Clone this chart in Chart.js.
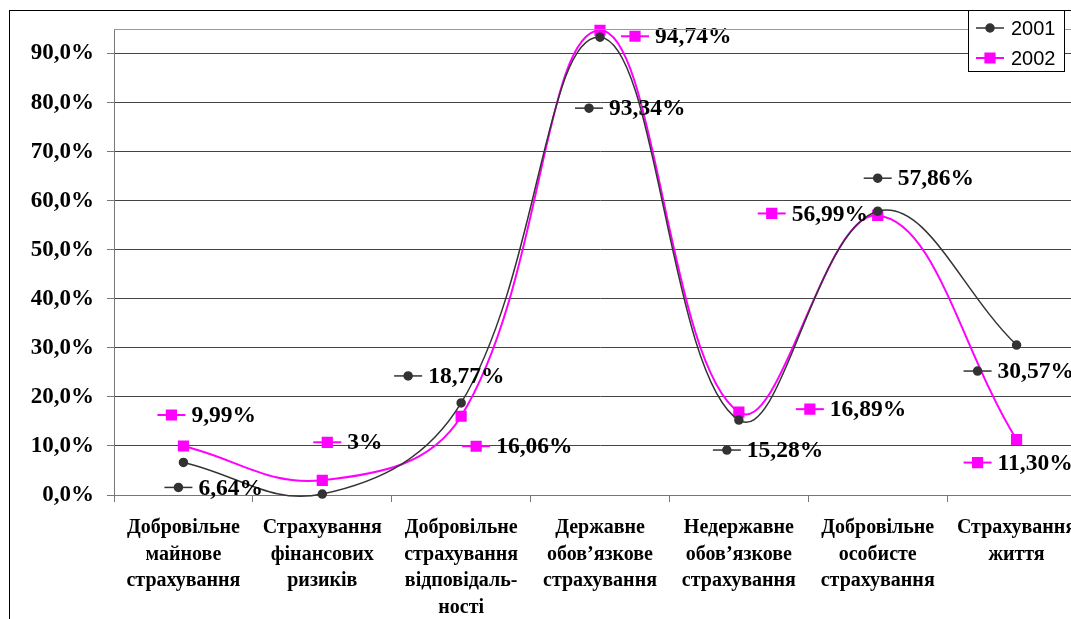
<!DOCTYPE html>
<html>
<head>
<meta charset="utf-8">
<script src="https://cdn.jsdelivr.net/npm/chart.js@4/dist/chart.umd.min.js"></script>
<style>
  html, body { margin: 0; padding: 0; background: #fff; overflow: hidden; }
  #frame { position: absolute; left: 9px; top: 10px; width: 1200px; height: 700px;
           border-left: 1px solid #000; border-top: 1px solid #000; }
  #wrap { position: absolute; left: 0; top: 0; width: 1100px; height: 619px; }
</style>
</head>
<body>
<div id="frame"></div>
<div id="wrap"><canvas id="chart"></canvas></div>
<script>
const categories = [
  ["Добровільне", "майнове", "страхування"],
  ["Страхування", "фінансових", "ризиків"],
  ["Добровільне", "страхування", "відповідаль-", "ності"],
  ["Державне", "обов’язкове", "страхування"],
  ["Недержавне", "обов’язкове", "страхування"],
  ["Добровільне", "особисте", "страхування"],
  ["Страхування", "життя"]
];
const values2001 = [6.64, 0.2, 18.77, 93.34, 15.28, 57.86, 30.57];
const values2002 = [9.99, 3, 16.06, 94.74, 16.89, 56.99, 11.30];
const yTicks = [0, 10, 20, 30, 40, 50, 60, 70, 80, 90];

// where each value label (key + text) sits, relative to its point; null = no label
const labelOffsets2001 = [[-5, 25], null, [-53, -27], [-11, 71], [-12, 30], [0, -33], [-39, 26]];
const labelOffsets2002 = [[-12, -31], [5, -38], [15, 30], [35, 6], [71, -3], [-106, -2], [-39, 23]];

const serif = '"Liberation Serif", "Times New Roman", serif';

function pct(v) {
  return (Number.isInteger(v) ? String(v) : v.toFixed(2)).replace('.', ',') + '%';
}

function drawKey(ctx, ds, x, y) {
  ctx.save();
  ctx.strokeStyle = ds.borderColor;
  ctx.lineWidth = ds.borderWidth;
  ctx.beginPath();
  ctx.moveTo(x - 14, y);
  ctx.lineTo(x + 14, y);
  ctx.stroke();
  ctx.fillStyle = ds.pointBackgroundColor;
  ctx.strokeStyle = ds.pointBorderColor;
  Chart.helpers.drawPoint(ctx, { pointStyle: ds.pointStyle, radius: ds.pointRadius, rotation: 0, borderWidth: 1 }, x, y);
  ctx.restore();
}

const valueLabels = {
  id: 'valueLabels',
  afterDatasetsDraw(chart) {
    const ctx = chart.ctx;
    chart.data.datasets.forEach((ds, i) => {
      const meta = chart.getDatasetMeta(i);
      meta.data.forEach((pt, j) => {
        const off = ds.labelOffsets[j];
        if (!off) return;
        const kx = pt.x + off[0], ky = pt.y + off[1];
        drawKey(ctx, ds, kx, ky);
        ctx.save();
        ctx.font = 'bold 23.5px ' + serif;
        ctx.fillStyle = '#000';
        ctx.textBaseline = 'middle';
        ctx.textAlign = 'left';
        ctx.fillText(pct(ds.data[j]), kx + 20, ky + 1);
        ctx.restore();
      });
    });
  }
};

const plotFrame = {
  id: 'plotFrame',
  afterDraw(chart) {
    const ctx = chart.ctx, a = chart.chartArea;
    ctx.save();
    ctx.strokeStyle = '#999';
    ctx.lineWidth = 1;
    ctx.beginPath();
    ctx.moveTo(a.left, a.top + 0.5);
    ctx.lineTo(a.right, a.top + 0.5);
    ctx.stroke();

    // legend box
    ctx.fillStyle = '#fff';
    ctx.fillRect(968, 10, 96, 61);
    ctx.strokeStyle = '#000';
    ctx.strokeRect(968.5, 10.5, 96, 61);
    ctx.font = '20px "Liberation Sans", Arial, sans-serif';
    ctx.textBaseline = 'middle';
    chart.data.datasets.forEach((ds, i) => {
      const y = 28 + i * 30;
      drawKey(ctx, ds, 990, y);
      ctx.fillStyle = '#000';
      ctx.fillText(ds.label, 1011, y + 1);
    });
    ctx.restore();
  }
};

new Chart(document.getElementById('chart'), {
  type: 'line',
  data: {
    labels: categories,
    datasets: [
      {
        label: '2001',
        data: values2001,
        labelOffsets: labelOffsets2001,
        borderColor: '#333333',
        borderWidth: 1.5,
        pointStyle: 'circle',
        pointRadius: 4,
        pointBackgroundColor: '#333333',
        pointBorderColor: '#333333',
        tension: 0.4,
        clip: false
      },
      {
        label: '2002',
        data: values2002,
        labelOffsets: labelOffsets2002,
        borderColor: '#ff00ff',
        borderWidth: 2,
        pointStyle: 'rect',
        pointRadius: 6.5,
        pointBackgroundColor: '#ff00ff',
        pointBorderColor: '#ff00ff',
        tension: 0.4,
        clip: false
      }
    ]
  },
  options: {
    responsive: true,
    maintainAspectRatio: false,
    animation: false,
    layout: { padding: { left: 0, top: 29, right: 14, bottom: 0 } },
    elements: { line: { capBezierPoints: false } },
    plugins: { legend: { display: false }, tooltip: { enabled: false } },
    scales: {
      x: {
        offset: true,
        grid: { offset: true, drawOnChartArea: false, tickLength: 7, tickColor: '#777' },
        border: { color: '#777' },
        ticks: {
          color: '#000',
          font: { family: serif, size: 20, weight: 'bold', lineHeight: 1.32 },
          padding: 13,
          maxRotation: 0,
          autoSkip: false
        },
        afterFit(scale) { scale.height = 124; }
      },
      y: {
        min: 0,
        max: 95,
        afterBuildTicks(scale) { scale.ticks = yTicks.map(v => ({ value: v })); },
        grid: { color: '#444', tickLength: 7, tickColor: '#777' },
        border: { color: '#777' },
        ticks: {
          color: '#000',
          font: { family: serif, size: 23, weight: 'bold' },
          padding: 13,
          callback: v => v.toFixed(1).replace('.', ',') + '%'
        },
        afterFit(scale) { scale.width = 114; }
      }
    }
  },
  plugins: [valueLabels, plotFrame]
});
</script>
</body>
</html>
